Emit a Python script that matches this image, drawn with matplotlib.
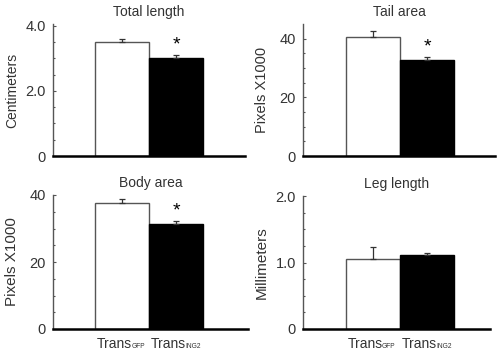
import numpy as np
import matplotlib.pyplot as plt

plt.rcParams['font.family'] = 'Liberation Sans'

# data
groups = ['Trans', 'Trans']
group_subs = ['GFP', 'ING2']
titles = ['Total length', 'Tail area', 'Body area', 'Leg length']
ylabels = ['Centimeters', 'Pixels X1000', 'Pixels X1000', 'Millimeters']
means = [[3.50, 3.02], [40.4, 32.6], [37.6, 31.3], [1.06, 1.11]]
errs = [[0.09, 0.09], [2.2, 1.1], [1.2, 1.0], [0.17, 0.03]]
yticks = [[0, 2.0, 4.0], [0, 20, 40], [0, 20, 40], [0, 1.0, 2.0]]
yticklabels = [['0', '2.0', '4.0'], ['0', '20', '40'], ['0', '20', '40'], ['0', '1.0', '2.0']]
ylims = [4.05, 45, 40, 2.0]
signif = [True, True, True, False]
ylabel_sizes = [10, 10.5, 11, 11]

fig = plt.figure(figsize=(5, 3.55), dpi=100)
W, H = 500, 355
# axes boxes in pixels: left, right, top, bottom, first bar left edge
boxes = [(53, 245, 24, 156, 95), (303, 495, 24, 156, 346),
         (53, 248, 195, 329, 95), (303, 490, 196, 329, 346)]
bw = 54  # bar width in pixels
txt = '#333333'

for i in range(4):
    l, r, t, b, x0 = boxes[i]
    ax = fig.add_axes([l / W, 1 - b / H, (r - l) / W, (b - t) / H])
    x = np.array([0, 1])
    ax.bar(x, means[i], width=1.0, color=['white', 'black'],
           edgecolor=['#555555', 'black'], linewidth=1)
    ax.errorbar(x, means[i], yerr=[[0, 0], errs[i]], fmt='none',
                ecolor='#333333', elinewidth=0.9, capsize=2.5, capthick=0.9)
    if signif[i]:
        ax.text(1, means[i][1] + errs[i][1] + ylims[i] * 0.01, '*',
                ha='center', va='bottom', fontsize=14, color='black')
    ax.set_ylim(0, ylims[i])
    ax.set_xlim(-0.5 - (x0 - l) / bw, 1.5 + (r - (x0 + 2 * bw)) / bw)
    ax.set_yticks(yticks[i])
    ax.set_yticklabels(yticklabels[i])
    ax.set_yticks(np.linspace(0, yticks[i][-1], 9), minor=True)
    ax.tick_params(axis='y', which='both', direction='in', length=2,
                   width=0.8, colors='#555555', labelcolor=txt, labelsize=10.5, pad=5)
    ax.tick_params(axis='y', which='minor', length=1.5)
    ax.set_xticks([])
    if i >= 2:
        for k in range(2):
            main = ax.annotate(groups[k], xy=(k - 0.5 + 2 / bw, 0),
                               xycoords=('data', 'axes fraction'),
                               xytext=(0, -8), textcoords='offset pixels',
                               ha='left', va='top', fontsize=10, color=txt)
            ax.annotate(group_subs[k], xy=(1, 0), xycoords=main,
                        xytext=(-1, 3), textcoords='offset pixels',
                        ha='left', va='baseline', fontsize=4.8, color=txt)
    for s in ['top', 'right']:
        ax.spines[s].set_visible(False)
    ax.spines['left'].set_color('#555555')
    ax.spines['left'].set_linewidth(1)
    ax.spines['bottom'].set_color('black')
    ax.spines['bottom'].set_linewidth(1.8)
    ax.set_title(titles[i], fontsize=10, color=txt, pad=6)
    ax.set_ylabel(ylabels[i], fontsize=ylabel_sizes[i], color=txt, va='center')
    ax.yaxis.set_label_coords(-41 / (r - l), 0.5)

fig.savefig('out.png', dpi=100)
